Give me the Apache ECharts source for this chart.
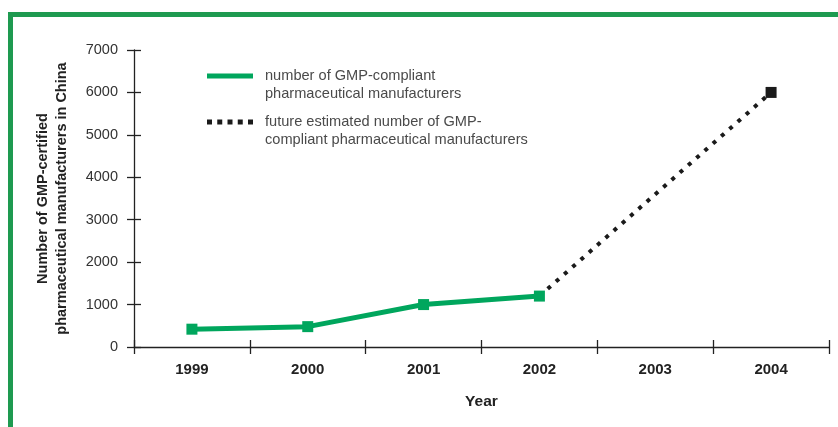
<!DOCTYPE html>
<html>
<head>
<meta charset="utf-8">
<script src="https://cdn.jsdelivr.net/npm/echarts@6/dist/echarts.min.js"></script>
<style>
html,body{margin:0;padding:0;background:#fff;}
#chart{width:838px;height:427px;}
</style>
</head>
<body>
<div id="chart"></div>
<script>
var years = ['1999', '2000', '2001', '2002', '2003', '2004'];
var actualValues = [420, 480, 1000, 1200, null, null];
var estimatedValues = [null, null, null, 1200, null, 6000];
var actualName = 'number of GMP-compliant\npharmaceutical manufacturers';
var estimatedName = 'future estimated number of GMP-\ncompliant pharmaceutical manufacturers';
var yTitle = 'Number of GMP-certified\npharmaceutical manufacturers in China';
var xTitle = 'Year';

var GREEN = '#00A65D';
var FRAME = '#1E9A50';
var INK = '#1a1a1a';
var SANS = '"Liberation Sans", Arial, sans-serif';

var chart = echarts.init(document.getElementById('chart'), null, {renderer: 'canvas'});

var legendText = {
  fontFamily: SANS, fontSize: 14.6, color: '#4a4a4a',
  lineHeight: 18, padding: [0, 0, 0, 7]
};
// a blank first line keeps the icon level with the first text line
var legendFormatter = function (name) { return ' \n' + name; };

chart.setOption({
  animation: false,
  graphic: [{
    type: 'rect',
    shape: {x: 10.5, y: 14.5, width: 900, height: 500},
    style: {fill: 'none', stroke: FRAME, lineWidth: 5},
    silent: true, z: -10
  }],
  grid: {left: 134, right: 9, top: 50, bottom: 80, containLabel: false},
  legend: [{
    orient: 'vertical', left: 207, top: 49, padding: 0,
    itemWidth: 46, itemHeight: 5, symbolKeepAspect: false,
    data: [{name: actualName, icon: 'rect', itemStyle: {color: GREEN}}],
    formatter: legendFormatter,
    textStyle: legendText, selectedMode: false
  }, {
    orient: 'vertical', left: 207, top: 95, padding: 0,
    itemWidth: 46, itemHeight: 5, symbolKeepAspect: false,
    data: [{name: estimatedName,
      icon: 'path://M0,0h5v5h-5z M10.25,0h5v5h-5z M20.5,0h5v5h-5z M30.75,0h5v5h-5z M41,0h5v5h-5z',
      itemStyle: {color: INK}}],
    formatter: legendFormatter,
    textStyle: legendText, selectedMode: false
  }],
  xAxis: [{
    type: 'category', data: years, position: 'bottom',
    name: xTitle, nameLocation: 'middle', nameGap: 47,
    nameTextStyle: {fontFamily: SANS, fontWeight: 'bold', fontSize: 15.5, color: '#222'},
    axisLine: {show: true, lineStyle: {color: '#222', width: 1.3}},
    axisTick: {show: true, inside: false, length: 7, lineStyle: {color: '#222', width: 1.3}},
    axisLabel: {margin: 15, fontFamily: SANS, fontWeight: 'bold', fontSize: 15, color: '#222'},
    splitLine: {show: false}
  }, {
    type: 'category', data: years, position: 'bottom',
    axisLine: {show: false},
    axisTick: {show: true, inside: true, length: 7, lineStyle: {color: '#222', width: 1.3}},
    axisLabel: {show: false},
    splitLine: {show: false}
  }],
  yAxis: [{
    type: 'value', min: 0, max: 7000, interval: 1000, position: 'left',
    name: yTitle, nameLocation: 'middle', nameRotate: 90, nameGap: 63,
    nameTextStyle: {fontFamily: SANS, fontWeight: 'bold', fontSize: 14.5, color: '#222', lineHeight: 19, align: 'center'},
    axisLine: {show: true, lineStyle: {color: '#222', width: 1.3}},
    axisTick: {show: true, inside: false, length: 7, lineStyle: {color: '#222', width: 1.3}},
    axisLabel: {margin: 16, fontFamily: SANS, fontSize: 14.5, color: '#333',
      formatter: function (v) { return String(v); }},
    splitLine: {show: false}
  }, {
    type: 'value', min: 0, max: 7000, interval: 1000, position: 'left',
    axisLine: {show: false},
    axisTick: {show: true, inside: true, length: 7, lineStyle: {color: '#222', width: 1.3}},
    axisLabel: {show: false},
    splitLine: {show: false}
  }],
  series: [{
    name: estimatedName, type: 'line', data: estimatedValues,
    xAxisIndex: 0, yAxisIndex: 0, connectNulls: true, z: 2,
    symbol: 'rect', symbolSize: function (v, p) { return p.dataIndex === 5 ? 11 : 0; },
    showSymbol: true,
    lineStyle: {color: INK, width: 4, type: [4, 7], cap: 'butt'},
    itemStyle: {color: INK}
  }, {
    name: actualName, type: 'line', data: actualValues,
    xAxisIndex: 0, yAxisIndex: 0, z: 3,
    symbol: 'rect', symbolSize: 11, showSymbol: true,
    lineStyle: {color: GREEN, width: 5},
    itemStyle: {color: GREEN}
  }]
});
</script>
</body>
</html>
